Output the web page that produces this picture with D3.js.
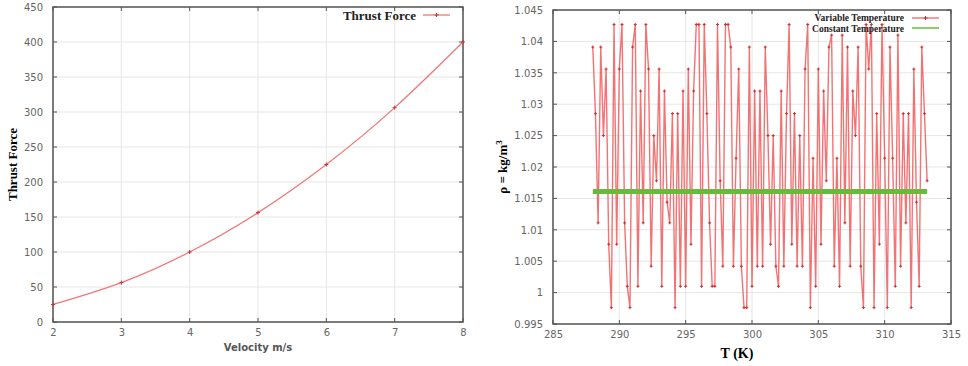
<!DOCTYPE html>
<html>
<head>
<meta charset="utf-8">
<script src="https://cdn.jsdelivr.net/npm/d3@7"></script>
<style>
    body { margin: 0; background: #fff; }
    .tick-label { font-family: "DejaVu Sans", sans-serif; font-size: 10px; fill: #666; }
</style>
</head>
<body>
<svg id="chart" width="968" height="366"></svg>
<script>
// Left panel: thrust force vs velocity
const velocity = [2, 3, 4, 5, 6, 7, 8];
const thrustForce = [25, 56.25, 100, 156.25, 225, 306.25, 400];
const velocityTicks = [2, 3, 4, 5, 6, 7, 8];
const forceTicks = [0, 50, 100, 150, 200, 250, 300, 350, 400, 450];

// Right panel: density vs temperature
const tempK = [
    288.0, 288.2, 288.4, 288.6, 288.8, 289.0, 289.2, 289.4, 289.6, 289.8,
    290.0, 290.2, 290.4, 290.6, 290.8, 291.0, 291.2, 291.4, 291.6, 291.8,
    292.0, 292.2, 292.4, 292.6, 292.8, 293.0, 293.2, 293.4, 293.6, 293.8,
    294.0, 294.2, 294.4, 294.6, 294.8, 295.0, 295.2, 295.4, 295.6, 295.8,
    296.0, 296.2, 296.4, 296.6, 296.8, 297.0, 297.2, 297.4, 297.6, 297.8,
    298.0, 298.2, 298.4, 298.6, 298.8, 299.0, 299.2, 299.4, 299.6, 299.8,
    300.0, 300.2, 300.4, 300.6, 300.8, 301.0, 301.2, 301.4, 301.6, 301.8,
    302.0, 302.2, 302.4, 302.6, 302.8, 303.0, 303.2, 303.4, 303.6, 303.8,
    304.0, 304.2, 304.4, 304.6, 304.8, 305.0, 305.2, 305.4, 305.6, 305.8,
    306.0, 306.2, 306.4, 306.6, 306.8, 307.0, 307.2, 307.4, 307.6, 307.8,
    308.0, 308.2, 308.4, 308.6, 308.8, 309.0, 309.2, 309.4, 309.6, 309.8,
    310.0, 310.2, 310.4, 310.6, 310.8, 311.0, 311.2, 311.4, 311.6, 311.8,
    312.0, 312.2, 312.4, 312.6, 312.8, 313.0, 313.2
];
const rhoVariable = [
    1.0391, 1.0285, 1.0111, 1.0391, 1.0250, 1.0356, 1.0077, 0.9976, 1.0427, 1.0077,
    1.0356, 1.0427, 1.0111, 1.0010, 0.9976, 1.0391, 1.0427, 1.0010, 1.0321, 1.0111,
    1.0427, 1.0356, 1.0042, 1.0250, 1.0178, 1.0356, 1.0010, 1.0321, 1.0144, 1.0111,
    1.0285, 0.9976, 1.0285, 1.0010, 1.0321, 1.0010, 1.0356, 1.0077, 1.0321, 1.0427,
    1.0427, 1.0010, 1.0427, 1.0285, 1.0111, 1.0010, 1.0010, 1.0427, 1.0178, 1.0042,
    1.0427, 1.0427, 1.0391, 1.0042, 1.0214, 1.0356, 1.0042, 0.9976, 0.9976, 1.0391,
    1.0010, 1.0321, 1.0042, 1.0321, 1.0042, 1.0391, 1.0250, 1.0077, 1.0250, 1.0042,
    1.0010, 1.0321, 1.0042, 1.0285, 1.0427, 1.0077, 1.0285, 1.0042, 1.0250, 1.0042,
    1.0356, 1.0427, 0.9976, 1.0214, 1.0010, 1.0356, 1.0077, 1.0321, 1.0178, 1.0391,
    1.0410, 1.0042, 1.0214, 1.0010, 1.0410, 1.0111, 1.0391, 1.0042, 1.0321, 1.0250,
    1.0391, 1.0042, 0.9976, 1.0427, 1.0356, 1.0427, 0.9976, 1.0285, 1.0077, 1.0427,
    1.0214, 0.9976, 1.0391, 1.0214, 1.0010, 1.0410, 1.0042, 1.0285, 1.0111, 1.0285,
    0.9976, 1.0356, 1.0144, 1.0010, 1.0391, 1.0285, 1.0178
];
const rhoConstant = 1.0161;
const tempTicks = [285, 290, 295, 300, 305, 310, 315];
const rhoTicks = [0.995, 1, 1.005, 1.01, 1.015, 1.02, 1.025, 1.03, 1.035, 1.04, 1.045];
const rhoTickLabels = ['0.995', '1', '1.005', '1.01', '1.015', '1.02', '1.025', '1.03', '1.035', '1.04', '1.045'];

const svg = d3.select('#chart');
const serif = '"Liberation Serif", "Times New Roman", serif';

// draws grid, frame, inward ticks on all sides and tick labels
function drawFrame(box, x, y, xTicks, yTicks, yFormat) {
    const g = svg.append('g');
    g.selectAll('.gx').data(xTicks).enter().append('line')
        .attr('x1', d => x(d)).attr('x2', d => x(d))
        .attr('y1', box.top).attr('y2', box.bottom)
        .attr('stroke', '#e6e6e6');
    g.selectAll('.gy').data(yTicks).enter().append('line')
        .attr('x1', box.left).attr('x2', box.right)
        .attr('y1', d => y(d)).attr('y2', d => y(d))
        .attr('stroke', '#e6e6e6');

    // tick marks pointing inward, mirrored
    const t = 4;
    xTicks.forEach(d => {
        g.append('line').attr('x1', x(d)).attr('x2', x(d)).attr('y1', box.bottom).attr('y2', box.bottom - t).attr('stroke', '#555');
        g.append('line').attr('x1', x(d)).attr('x2', x(d)).attr('y1', box.top).attr('y2', box.top + t).attr('stroke', '#555');
    });
    yTicks.forEach(d => {
        g.append('line').attr('x1', box.left).attr('x2', box.left + t).attr('y1', y(d)).attr('y2', y(d)).attr('stroke', '#555');
        g.append('line').attr('x1', box.right).attr('x2', box.right - t).attr('y1', y(d)).attr('y2', y(d)).attr('stroke', '#555');
    });

    g.append('rect')
        .attr('x', box.left).attr('y', box.top)
        .attr('width', box.right - box.left).attr('height', box.bottom - box.top)
        .attr('fill', 'none').attr('stroke', '#555').attr('stroke-width', 1.5);

    // Add the X Axis labels
    const xAxis = svg.append('g')
        .attr('transform', `translate(0,${box.bottom})`)
        .call(d3.axisBottom(x).tickValues(xTicks).tickSize(0).tickPadding(7).tickFormat(d => d));
    // Add the Y Axis labels
    const yAxis = svg.append('g')
        .attr('transform', `translate(${box.left},0)`)
        .call(d3.axisLeft(y).tickValues(yTicks).tickSize(0).tickPadding(10).tickFormat(yFormat));
    [xAxis, yAxis].forEach(a => {
        a.select('.domain').remove();
        a.selectAll('text').attr('class', 'tick-label').attr('font-family', null).attr('font-size', null).attr('fill', null);
    });
}

function plusMarks(data, x, y, color, size) {
    svg.append('g').selectAll('path').data(data).enter().append('path')
        .attr('d', d => `M${x(d[0]) - size},${y(d[1])}h${size * 2}M${x(d[0])},${y(d[1]) - size}v${size * 2}`)
        .attr('stroke', color).attr('stroke-width', 1);
}

// ---------- left panel ----------
const leftBox = {left: 53, right: 463, top: 7, bottom: 322};
const xV = d3.scaleLinear().domain([2, 8]).range([leftBox.left, leftBox.right]);
const yF = d3.scaleLinear().domain([0, 450]).range([leftBox.bottom, leftBox.top]);
drawFrame(leftBox, xV, yF, velocityTicks, forceTicks, d => d);

const forcePts = velocity.map((v, i) => [v, thrustForce[i]]);
svg.append('path')
    .datum(forcePts)
    .attr('d', d3.line().x(d => xV(d[0])).y(d => yF(d[1])).curve(d3.curveNatural))
    .attr('fill', 'none').attr('stroke', '#f07878').attr('stroke-width', 1.3);
plusMarks(forcePts, xV, yF, '#c83232', 2);

svg.append('text')
    .attr('x', (leftBox.left + leftBox.right) / 2).attr('y', 351)
    .attr('text-anchor', 'middle')
    .style('font-family', '"DejaVu Sans", sans-serif').style('font-size', '10px')
    .style('font-weight', 'bold').style('fill', '#555')
    .text('Velocity m/s');
svg.append('text')
    .attr('transform', `translate(17,${(leftBox.top + leftBox.bottom) / 2}) rotate(-90)`)
    .attr('text-anchor', 'middle')
    .style('font-family', serif).style('font-size', '13px').style('font-weight', 'bold')
    .text('Thrust Force');

// legend
svg.append('text')
    .attr('x', 416).attr('y', 20).attr('text-anchor', 'end')
    .style('font-family', serif).style('font-size', '13px').style('font-weight', 'bold').style('fill', '#222')
    .text('Thrust Force');
svg.append('line').attr('x1', 423).attr('x2', 450).attr('y1', 15).attr('y2', 15)
    .attr('stroke', '#f07878').attr('stroke-width', 1.3);
svg.append('path').attr('d', 'M434.5,15h4M436.5,13v4').attr('stroke', '#c83232');

// ---------- right panel ----------
const rightBox = {left: 553, right: 951, top: 10, bottom: 324};
const xT = d3.scaleLinear().domain([285, 315]).range([rightBox.left, rightBox.right]);
const yR = d3.scaleLinear().domain([0.995, 1.045]).range([rightBox.bottom, rightBox.top]);
drawFrame(rightBox, xT, yR, tempTicks, rhoTicks, (d, i) => rhoTickLabels[i]);

const rhoPts = tempK.map((t, i) => [t, rhoVariable[i]]);
svg.append('path')
    .datum(rhoPts)
    .attr('d', d3.line().x(d => xT(d[0])).y(d => yR(d[1])))
    .attr('fill', 'none').attr('stroke', '#f05a5a').attr('stroke-width', 1.4).attr('stroke-opacity', 0.85);
plusMarks(rhoPts, xT, yR, '#d03030', 1.5);

const constPts = tempK.map(t => [t, rhoConstant]);
svg.append('path')
    .datum(constPts)
    .attr('d', d3.line().x(d => xT(d[0])).y(d => yR(d[1])))
    .attr('fill', 'none').attr('stroke', '#66bb3a').attr('stroke-width', 5);

svg.append('text')
    .attr('x', (rightBox.left + rightBox.right) / 2 - 15).attr('y', 358)
    .attr('text-anchor', 'middle')
    .style('font-family', serif).style('font-size', '14px').style('font-weight', 'bold')
    .text('T (K)');
const yLab = svg.append('text')
    .attr('transform', `translate(507,${(rightBox.top + rightBox.bottom) / 2}) rotate(-90)`)
    .attr('text-anchor', 'middle')
    .style('font-family', serif).style('font-size', '13px').style('font-weight', 'bold');
yLab.append('tspan').text('\u03c1 = kg/m');
yLab.append('tspan').attr('dy', -5).style('font-size', '9px').text('3');

// legend
svg.append('text')
    .attr('x', 904).attr('y', 21).attr('text-anchor', 'end')
    .style('font-family', serif).style('font-size', '9.5px').style('font-weight', 'bold').style('fill', '#222')
    .text('Variable Temperature');
svg.append('text')
    .attr('x', 904).attr('y', 32).attr('text-anchor', 'end')
    .style('font-family', serif).style('font-size', '9.5px').style('font-weight', 'bold').style('fill', '#222')
    .text('Constant Temperature');
svg.append('line').attr('x1', 912).attr('x2', 939).attr('y1', 18).attr('y2', 18)
    .attr('stroke', '#f05a5a').attr('stroke-width', 1.2);
svg.append('path').attr('d', 'M923.5,18h4M925.5,16v4').attr('stroke', '#d03030');
svg.append('line').attr('x1', 912).attr('x2', 939).attr('y1', 28).attr('y2', 28)
    .attr('stroke', '#66bb3a').attr('stroke-width', 1.5);
</script>
</body>
</html>
